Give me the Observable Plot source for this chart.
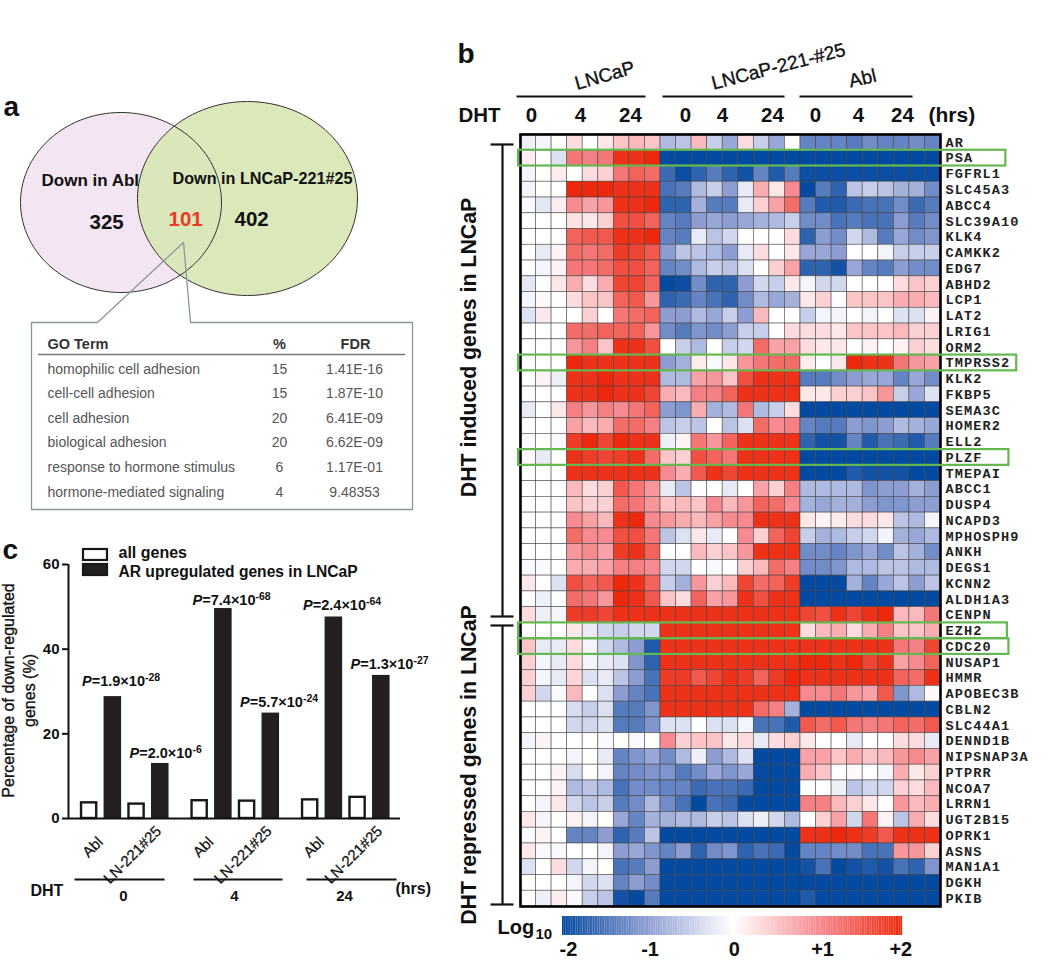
<!DOCTYPE html>
<html><head><meta charset="utf-8">
<script src="https://cdn.jsdelivr.net/npm/d3@7"></script>
<script src="https://cdn.jsdelivr.net/npm/@observablehq/plot@0.6"></script>
<style>
html,body{margin:0;padding:0;background:#fff}
#page{position:relative;width:1050px;height:961px;overflow:hidden;background:#fff}
#page svg{position:absolute;overflow:visible;max-width:none}
</style></head><body><div id="page"></div>
<script>
// ---------- panel b data ----------
const genes = ["AR","PSA","FGFRL1","SLC45A3","ABCC4","SLC39A10","KLK4","CAMKK2","EDG7","ABHD2","LCP1","LAT2","LRIG1","ORM2","TMPRSS2","KLK2","FKBP5","SEMA3C","HOMER2","ELL2","PLZF","TMEPAI","ABCC1","DUSP4","NCAPD3","MPHOSPH9","ANKH","DEGS1","KCNN2","ALDH1A3","CENPN","EZH2","CDC20","NUSAP1","HMMR","APOBEC3B","CBLN2","SLC44A1","DENND1B","NIPSNAP3A","PTPRR","NCOA7","LRRN1","UGT2B15","OPRK1","ASNS","MAN1A1","DGKH","PKIB"];
const lncap = [
[-.15,-.1,0,.3,0,.2,.5,.6,.5],[.15,0,-.3,1.2,1.1,1.2,1.9,1.9,2],[-.1,0,.15,0,.3,.4,1.2,1.4,1.3],[-.1,0,0,2,2,2,1.9,1.9,1.9],[-.05,-.25,.15,1,.8,.9,1.9,1.9,2],
[0,0,0,.25,.2,.4,1.6,1.6,1.4],[0,0,0,1.4,1.5,1.5,1.9,1.9,2],[0,-.2,.1,1.3,1.2,1.3,1.8,1.7,1.5],[0,-.1,.1,1.2,1.2,1.3,1.6,1.6,1.4],[-.25,0,.2,.7,.3,.7,1.7,1.7,1.4],
[-.1,.05,0,.3,.5,.5,1.4,1.5,.9],[-.3,.2,0,0,.4,0,1.2,1.3,1.4],[0,0,0,1.3,1.3,1.4,1.4,1.4,.9],[0,0,0,.9,1.1,.5,1.9,1.9,1.6],[0,0,0,2,1.9,1.9,1.9,1.9,1.9],
[0,.1,-.15,1.9,1.9,2,1.9,1.9,1.9],[0,0,0,1.9,1.9,2,1.9,1.9,1.7],[-.2,0,.2,1.1,.9,1.1,1,1.2,1.4],[0,0,0,.8,.6,.7,1.3,1.3,1.1],[-.05,0,-.05,1.8,2,1.7,2,1.9,1.9],
[.05,-.2,0,1.9,1.8,1.7,1.8,1.9,1.3],[0,0,0,1.9,1.9,1.9,1.9,1.9,1.9],[0,0,0,.6,.3,.4,1.5,1.2,.9],[0,0,0,.5,.4,.4,1.3,1.2,.9],[0,0,0,1,.8,.6,1.9,2,1],
[0,0,0,1.3,1,1,1.6,1.6,1.2],[0,0,0,.9,1,.8,1.8,1.9,1.4],[-.05,-.05,0,.7,.7,.8,1.1,1.1,1],[.2,0,-.3,1.6,1.4,1.5,2,1.9,1.4],[0,-.15,0,1.3,1.2,.9,2,1.9,1.5],
[.3,-.15,-.1,1.8,1.8,1.7,1.9,1.9,1.9],[0,0,0,.2,-.2,-.4,-.5,-.4,-.4],[.5,-.2,-.2,.3,-.1,-.4,-.7,-1,-1.8],[.4,-.1,-.2,.3,-.1,-.2,-.3,-1.1,-1.7],[.4,-.1,-.2,.35,-.3,-.2,-.6,-1,-1.5],
[.4,-.4,-.05,.6,0,-.3,-1,-1.3,-1.5],[0,0,0,-.35,-.5,-.3,-1.4,-1.4,-1.1],[0,0,0,-.4,-.4,-.3,-1.4,-1.4,-1.1],[-.1,.1,0,0,0,-.05,0,-.05,0],[0,0,0,-.1,0,-.2,-1.3,-1.1,-.9],
[0,0,.1,-.35,0,-.1,-1.3,-1.2,-1.1],[0,0,.1,-.7,-.6,-.7,-1.5,-1.2,-1.2],[0,-.1,.2,-.4,-.6,-.5,-1.4,-1.2,-.7],[.2,-.1,0,.1,-.1,0,-.9,-1.3,-.8],[-.05,.1,0,-1.3,-1.3,-1,-1.7,-1.4,-.6],
[.2,-.05,-.05,0,0,-.1,-1,-.9,-1.1],[-.3,0,.3,-.4,-.1,0,-1.5,-1.4,-1],[0,0,0,-.1,-.4,-.3,-1.3,-1,-1.2],[0,-.15,.15,-.05,-.5,-.6,-1.9,-2,-1.4]];
const lncap221 = [
[-.7,-.6,.6,-.5,-.9,.3,-.5,-.9,0],[-2,-2,-2,-2,-2,-2,-2,-2,-2],[-1.6,-1.95,-1.7,-1.4,-1.7,-1.9,-1.3,-1.8,-1.4],[-1.5,-1.4,-.7,-.5,-1,-.2,.7,.2,1],[-1.7,-1.7,-.8,-1.4,-1.4,-.2,.4,.8,1.3],
[-1.3,-1.4,-1,-.9,-1,-.9,-.8,-.7,-.5],[-1.3,-1.4,-.2,-.6,-.4,0,0,0,.3],[-1,-.6,-.6,-.7,-1,-.2,.3,0,.2],[-1.3,-1.2,-.7,-.5,-.6,-.3,0,.4,.8],[-2,-1.95,-1.2,-1.7,-1.7,-1,-.4,-.5,.2],
[-1.7,-1.6,-1.3,-1.5,-1.7,-1.2,-.7,-.9,-.8],[-1,-1,-.7,-.9,-.5,-1,.6,0,0],[-1.2,-1.4,-1.1,-1.2,-1,-.5,-.5,0,.3],[0,-.5,-.7,0,-.5,-.4,1.3,.8,.8],[-1,-.8,.15,-.05,.2,.9,1.2,1.3,1.3],
[-.7,-.7,.8,.9,.5,1.6,1.9,1.9,1.9],[.7,.6,1.1,1.1,1.4,1.9,1.9,1.9,1.9],[-1,-1.1,.7,-.8,-.7,1.2,-.7,-.5,.3],[-.6,-.5,-.6,0,-.6,-.3,1.3,1,1.1],[-.15,.1,1.2,.9,1.4,1.9,1.9,1.9,1.9],
[.5,.4,1.6,1.4,1.2,1.9,1.9,1.9,1.9],[1,.7,1.5,1.9,1.7,1.9,1.9,1.9,1.9],[-.2,-.6,0,0,-.2,0,.8,.4,1.1],[.5,.6,.5,1,.6,.9,1.4,1.3,1],[.9,.7,.6,.8,1,1,1.9,1.9,1.9],
[-.6,-.3,.2,-.2,0,1,.4,1.4,1.7],[0,0,.6,.4,.5,.9,1.9,1.9,1.9],[-.4,-.4,0,-.05,0,.4,.6,1.3,1.1],[-.5,-.8,.9,.4,.6,1.7,1.3,1.4,1.8],[.5,.3,1.4,.8,.9,1.9,1.6,1.9,1.9],
[1.9,1.9,1.9,1.9,1.9,1.9,1.9,1.9,1.9],[1.9,1.9,1.9,1.9,1.9,1.9,1.9,1.9,1.9],[1.9,1.9,1.9,1.9,1.9,1.9,1.9,1.9,1.9],[1.9,1.9,1.9,1.9,1.9,1.9,1.9,1.9,1.9],[1.8,1.8,1.5,1.7,1.9,1.8,1.4,1.8,2],
[1.9,1.9,1.9,1.9,1.9,1.9,1.9,1.9,1.9],[1.9,1.9,1.9,1.9,1.9,1.9,1.3,1.1,-.8],[-.3,-.3,0,-.3,-.3,-.1,-1.5,-1.5,-1.8],[1,.4,.5,.5,.2,.3,-.2,.3,.4],[-1.2,-.7,-.15,-1,-.7,-.3,-2,-2,-2],
[-1.1,-1.4,-1.2,-.9,-1.1,-.9,-2,-2,-2],[-1.3,-1.3,-1.6,-1.5,-1.5,-1.6,-2,-2,-2],[-1.2,-1.5,-2,-1.5,-1.6,-2,-2,-2,-2],[-.8,-.7,-.7,-.5,-.6,-.3,-.15,-.4,-.7],[-2,-2,-2,-2,-2,-2,-2,-2,-2],
[-1.3,-1,-1.7,-1.2,-1.1,-1.7,-1.5,-1.6,-2],[-2,-2,-2,-2,-2,-2,-2,-2,-2],[-2,-2,-2,-2,-2,-2,-2,-2,-2],[-2,-2,-2,-2,-2,-2,-2,-2,-2]];
const abl = [
[-1.3,-1.3,-1.3,-1.4,-1.2,-1.3,-1.3,-1.2,-1.3],[-2,-2,-2,-2,-2,-2,-2,-2,-2],[-1.95,-1.95,-1.95,-1.95,-1.95,-1.95,-1.95,-1.95,-1.95],[-2,-1.4,-1.7,-.6,-.5,-.6,-.8,-.8,-1.2],[-1.4,-1.8,-1.8,-1.6,-1.5,-1.5,-1.2,-1.6,-1.4],
[-1.2,-1.2,-1.5,-1.4,-1.5,-1.5,-1,-1.4,-1.2],[-1.7,-1,-1.2,-.4,-.7,-1.4,-.9,-1.2,-1.1],[-.9,-.9,-1,0,0,-.1,-.5,-.5,-.5],[-1.7,-1.7,-1.9,-.9,-1.3,-1.4,-1,-1.2,-1.2],[-.1,-.4,-.4,0,0,0,.3,.5,.4],
[.2,.4,0,.5,.5,.5,.7,.7,.6],[-.5,-.1,-.1,0,-.1,0,-.3,-.3,.1],[.3,.3,.2,.5,.5,.5,.6,.4,.4],[.3,.2,.2,0,.1,0,.1,.4,.3],[.15,0,.2,2,1.9,1.9,1.2,.9,.8],
[-1.4,-1.4,-1.2,-1,-.9,-.9,-1.3,-.9,-1.2],[.2,.2,.4,.4,.5,.9,-.5,-.9,-.3],[-2,-2,-2,-2,-2,-2,-2,-2,-2],[-1.3,-1.4,-1.4,-1,-1.1,-1,-.7,-.8,-.9],[-1.7,-1.9,-1.9,-1.3,-1.8,-1.5,-1.6,-1.8,-1.4],
[-2,-2,-2,-2,-2,-2,-2,-2,-2],[-2,-2,-2,-1.8,-1.9,-1.9,-1.9,-2,-2],[-.7,-.7,-.7,-.7,-1.1,-1,-1,-.8,-1],[-.8,-.9,-.8,-.8,-1,-1.1,-1.1,-1,-1],[.2,.1,.15,.3,.3,.2,-.6,-.7,-.1],
[-.5,-.8,-.7,-.5,-.4,-.1,-.8,-.9,-.7],[-1.2,-1.2,-1.3,-1.1,-.9,-1.2,-.6,-.8,-1.2],[-1.2,-1.2,-1.1,-.7,-.7,-.6,-.6,-.7,-.7],[-2,-2,-2,-.8,-1.3,-.9,-.6,-1,-.6],[-2,-2,-2,-2,-2,-2,-2,-2,-2],
[1.7,1.6,1.9,1.7,1.9,2,.6,.6,1.2],[.3,.6,.7,.3,.7,1.1,.5,.5,.7],[1.9,1.9,1.9,1.9,1.9,1.9,1.2,1.1,1.7],[2,2,1.9,2,1.7,1.9,.8,1,1.4],[1.9,1.9,1.9,1.9,1.9,1.9,1.4,1.3,1.9],
[1,1,1.2,.9,.8,1.5,-1.1,-.7,.05],[-2,-2,-2,-2,-2,-2,-2,-2,-2],[1.5,1.3,1.5,1.2,1.1,1.2,1.4,1.3,1.5],[.2,0,0,-.2,0,0,.3,.3,-.2],[.8,.8,.5,.7,.5,.6,.9,1,.8],
[.7,.5,0,.05,0,-.1,.7,.2,.4],[0,0,-.15,-.6,-.4,-.4,.4,.3,.6],[1.1,1.1,.6,.4,.2,0,.9,.6,.7],[0,.4,.8,-.4,1.2,.1,-.6,.7,.3],[1.9,1.9,2,1.9,1.8,1.5,1.9,1.9,1.9],
[-1.3,-1.3,-1.2,-1.2,-1.5,-1.5,.9,.9,.4],[-1.9,-1.5,-2,-1.9,-1.8,-1.9,-1.5,-1.7,-1.1],[-2,-2,-2,-2,-2,-2,-2,-2,-2],[-1.8,-2,-2,-2,-2,-2,-2,-2,-2]];
const highlighted = [["PSA",31.2],["TMPRSS2",31.9],["PLZF",31.4],["EZH2",31.3],["CDC20",31.4]];
const scaleStops = [-1.95,-1,0,1,1.85];
const scaleColors = ["#0c4ea3","#8d9dd2","#ffffff","#f68a90","#ee3720"];
const scaleLabels = ["-2","-1","0","+1","+2"];
const scaleLabelAt = [-1.93,-.97,.02,1.06,1.98];

// ---------- panel c data ----------
const dhtGroups = ["0","4","24"];
const allGenes = [3.7,3.4,4.2,4.1,4.4,5.0];
const arGenes = [28.8,13.0,49.6,24.9,47.6,33.8];
const pValues = ["1.9×10^-28","2.0×10^-6","7.4×10^-68","5.7×10^-24","2.4×10^-64","1.3×10^-27"];
const pHeights = [31.4,14.4,50.5,26.4,49.3,35.4];

// ---------- panel a data ----------
const goTerms = ["homophilic cell adhesion","cell-cell adhesion","cell adhesion","biological adhesion","response to hormone stimulus","hormone-mediated signaling"];
const goPercent = ["15","15","20","20","6","4"];
const goFDR = ["1.41E-16","1.87E-10","6.41E-09","6.62E-09","1.17E-01","9.48353"];

const SANS = "'Liberation Sans',Arial,sans-serif";
const page = document.getElementById("page");
function place(svg,left,top){svg.style.left=left+"px";svg.style.top=top+"px";page.appendChild(svg);return svg;}

// ---------- page-level annotation layer ----------
const T = (t,x,y,size,o={}) => ({t,x,y,size,rotate:o.rotate||0,anchor:o.anchor||"start",fill:o.fill||"#111"});
const ellipse = (cx,cy,rx,ry) => d3.range(0,361,3).map(a=>({x:cx+rx*Math.cos(a*Math.PI/180),y:cy+ry*Math.sin(a*Math.PI/180)}));
const leftEllipse = ellipse(120.5,202,100.5,90), rightEllipse = ellipse(247,198,110,97);
const callout = [[97,322],[31,322],[31,509],[412,509],[412,322],[190,322],[183,242],[97,322]].map(([x,y])=>({x,y}));
const mid = {anchor:"middle"};
const boldText = [
 T("a",3,115,28),T("b",457,62,28),T("c",2,558,28),
 T("Down in Abl",41,185,17),T("Down in LNCaP-221#25",172,183,16.2),
 T("325",89,228,20.5),T("101",168,225,20.5,{fill:"#ee3a24"}),T("402",234,225,20.5),
 T("DHT induced genes in LNCaP",475,347,21.3,{rotate:-90,anchor:"middle"}),
 T("DHT repressed genes in LNCaP",475,764.5,21.3,{rotate:-90,anchor:"middle"}),
 T("DHT",458,121,20.5),
 T("0",531,121,20.5,mid),T("4",580,121,20.5,mid),T("24",630,121,20.5,mid),
 T("0",685,121,20.5,mid),T("4",722,121,20.5,mid),T("24",772,121,20.5,mid),
 T("0",815,121,20.5,mid),T("4",858,121,20.5,mid),T("24",902,121,20.5,mid),
 T("(hrs)",928,121,21),
 T("Log",497,933,20),T("10",535,938,15),
 T("all genes",118,557,16),T("AR upregulated genes in LNCaP",118,576,15.6),
 T("DHT",30,895,16),T("0",123,900,15,mid),T("4",234,900,15,mid),T("24",344,900,15,mid),T("(hrs)",395,893,16)
];
const plainText = [
 T("LNCaP",606,81,19,{rotate:-16,anchor:"middle"}),
 T("LNCaP-221-#25",779.5,72,19,{rotate:-14.5,anchor:"middle"}),
 T("Abl",863.5,84,19,{rotate:-13,anchor:"middle"}),
 T("Percentage of down-regulated",13,690,16,{rotate:-90,anchor:"middle"}),
 T("genes (%)",34,690,16,{rotate:-90,anchor:"middle"})
];
const tableHead = [T("GO Term",47,348,14.5,{fill:"#333"}),T("%",279,348,14.5,{anchor:"middle",fill:"#333"}),T("FDR",355,348,14.5,{anchor:"middle",fill:"#333"})];
const tableBody = goTerms.flatMap((g,i)=>{const y=373+i*24.6;return [
 T(g,47,y,14,{fill:"#555"}),T(goPercent[i],279,y,14,{anchor:"middle",fill:"#555"}),T(goFDR[i],354,y,14,{anchor:"middle",fill:"#555"})];});
const segments = [
 [516,96,645,96],[662,96,784,96],[799,96,912,96],
 [502,144,502,616],[490,144,513,144],[490,616,513,616],[490,625,513,625],[502,625,502,904],[490,904,513,904],
 [74,879,164,879],[193,879,282,879],[306,879,396,879]
].map(([x1,y1,x2,y2])=>({x1,y1,x2,y2}));
const splitAnchor = (data,weight,extra={}) => ["start","middle"].map(a=>Plot.text(data.filter(d=>d.anchor===a),{x:"x",y:"y",text:"t",fontSize:d=>d.size,rotate:"rotate",fill:"fill",textAnchor:a,lineAnchor:"bottom",fontWeight:weight,...extra}));

place(Plot.plot({
  width:1050,height:961,margin:0,style:{fontFamily:SANS,background:"transparent"},
  x:{domain:[0,1050],range:[0,1050],axis:null},y:{domain:[0,961],range:[0,961],axis:null},
  marks:[
    Plot.line(leftEllipse,{x:"x",y:"y",fill:"#f3e5f1",stroke:"none"}),
    Plot.line(rightEllipse,{x:"x",y:"y",fill:"#d8e7b6",fillOpacity:.94,stroke:"none"}),
    Plot.line(leftEllipse,{x:"x",y:"y",stroke:"#333",strokeWidth:1}),
    Plot.line(rightEllipse,{x:"x",y:"y",stroke:"#333",strokeWidth:1}),
    Plot.line(callout,{x:"x",y:"y",stroke:"#8a979c",strokeWidth:1.3}),
    Plot.ruleY([354],{x1:38,x2:405,stroke:"#777",strokeWidth:1.5}),
    Plot.link(segments,{x1:"x1",y1:"y1",x2:"x2",y2:"y2",stroke:"#111",strokeWidth:2.2}),
    ...splitAnchor(boldText,"bold"),
    ...splitAnchor(plainText,"normal",{stroke:"#111",strokeWidth:.35}),
    ...splitAnchor(tableHead,"bold"),
    ...splitAnchor(tableBody,"normal")
  ]
}),0,0);

// ---------- panel b: heat map ----------
const cells = genes.flatMap((gene,row)=>[...lncap[row],...lncap221[row],...abl[row]].map((value,col)=>({gene,row,col,value})));
const colorScale = {type:"linear",domain:scaleStops,range:scaleColors,interpolate:"rgb"};
const heat = Plot.plot({
  width:540,height:790,marginLeft:10,marginRight:110,marginTop:9,marginBottom:9,
  style:{fontFamily:SANS,background:"transparent"},
  x:{domain:[0,27],axis:null},y:{domain:[49,0],axis:null},color:colorScale,
  marks:[
    Plot.rect(cells,{x1:"col",x2:d=>d.col+1,y1:"row",y2:d=>d.row+1,fill:"value",stroke:"#3d3d3d",strokeWidth:.7,strokeOpacity:.75}),
    Plot.frame({stroke:"#000",strokeWidth:2.6}),
    Plot.text(genes,{x:27,y:(d,i)=>i+.5,text:d=>d,dx:5,textAnchor:"start",fontFamily:"'Liberation Mono',monospace",fontWeight:"bold",fontSize:13.6,fill:"#222",className:"gene"}),
    Plot.rect(highlighted,{x1:-.12,x2:d=>d[1],y1:d=>genes.indexOf(d[0]),y2:d=>genes.indexOf(d[0])+1,fill:"none",stroke:"#63b84f",strokeWidth:2.2})
  ]
});
d3.select(heat).selectAll(".gene text").attr("letter-spacing","1.1");
place(heat,510,125);

// colour key
place(Plot.plot({
  width:360,height:51,marginLeft:10,marginRight:10,marginTop:6,marginBottom:26,
  style:{fontFamily:SANS,background:"transparent"},
  x:{domain:[-2,2],axis:null},y:{domain:[0,1],axis:null},color:colorScale,
  marks:[
    Plot.rect(d3.range(-2,2,.02),{x1:d=>d,x2:d=>d+.021,y1:0,y2:1,fill:d=>d}),
    Plot.text(scaleLabels,{x:(d,i)=>scaleLabelAt[i],y:0,text:d=>d,dy:14,fontSize:20,fontWeight:"bold",fill:"#111",textAnchor:"middle"})
  ]
}),552,910);

// ---------- panel c: bar chart ----------
const groupStep = 4.66, barWidth = .74;
const bars = allGenes.flatMap((v,i)=>{
  const g=Math.floor(i/2),s=i%2*2,base=g*groupStep+s;
  return [{k:"all",x:base,v},{k:"ar",x:base+1,v:arGenes[i],p:pValues[i],h:pHeights[i]}];
});
const ticksAt = dhtGroups.flatMap((g,i)=>[{t:"Abl",x:i*groupStep+.84},{t:"LN-221#25",x:i*groupStep+2.84}]);
const chart = Plot.plot({
  width:440,height:345,marginLeft:68,marginRight:40,marginTop:14,marginBottom:77,
  style:{fontFamily:SANS,background:"transparent"},
  x:{domain:[-.5,13.5],axis:null},y:{domain:[0,60],axis:null},
  marks:[
    Plot.rectY(bars.filter(d=>d.k==="all"),{x1:d=>d.x+.05,x2:d=>d.x+barWidth-.05,y:"v",fill:"#fff",stroke:"#1a1718",strokeWidth:2.4}),
    Plot.rectY(bars.filter(d=>d.k==="ar"),{x1:"x",x2:d=>d.x+barWidth,y:"v",fill:"#231f20"}),
    Plot.axisY({ticks:[0,20,40,60],tickSize:6,fontSize:15,fontWeight:"bold",label:null,stroke:"#111",strokeWidth:2,fill:"#111",tickPadding:3}),
    Plot.ruleX([-.5],{stroke:"#111",strokeWidth:2}),
    Plot.ruleY([0],{stroke:"#111",strokeWidth:2}),
    Plot.text(bars.filter(d=>d.k==="ar"),{x:"x",y:"h",text:"p",dx:-22,textAnchor:"start",lineAnchor:"bottom",fontSize:14.5,fontWeight:"bold",fill:"#111",className:"pval"}),
    Plot.text(ticksAt.filter(d=>d.t==="Abl"),{x:"x",y:0,text:"t",dx:-4,dy:17,rotate:-45,textAnchor:"end",lineAnchor:"top",fontSize:15,fill:"#111",stroke:"#111",strokeWidth:.25}),
    Plot.text(ticksAt.filter(d=>d.t!=="Abl"),{x:"x",y:0,text:"t",dx:7,dy:6,rotate:-45,textAnchor:"end",lineAnchor:"top",fontSize:15,fill:"#111",stroke:"#111",strokeWidth:.25})
  ]
});
d3.select(chart).selectAll(".pval text").each(function(){
  const [head,sup] = this.textContent.split("^");
  const sel = d3.select(this).text(null);
  sel.append("tspan").attr("font-style","italic").text("P");
  sel.append("tspan").text("="+head);
  sel.append("tspan").attr("font-size","10.5").attr("dy","-5").text(sup);
});
place(chart,0,550);

// legend of panel c
place(Plot.plot({
  width:30,height:40,margin:0,style:{background:"transparent"},
  x:{domain:[0,1],range:[3,27],axis:null},y:{domain:["all genes","AR upregulated genes in LNCaP"],range:[0,36],axis:null,padding:.3},
  marks:[
    Plot.barX(["all genes","AR upregulated genes in LNCaP"],{y:d=>d,x1:0,x2:1,fill:d=>d==="all genes"?"#fff":"#231f20",stroke:"#1a1718",strokeWidth:2.2})
  ]
}),80,544);
</script></body></html>
